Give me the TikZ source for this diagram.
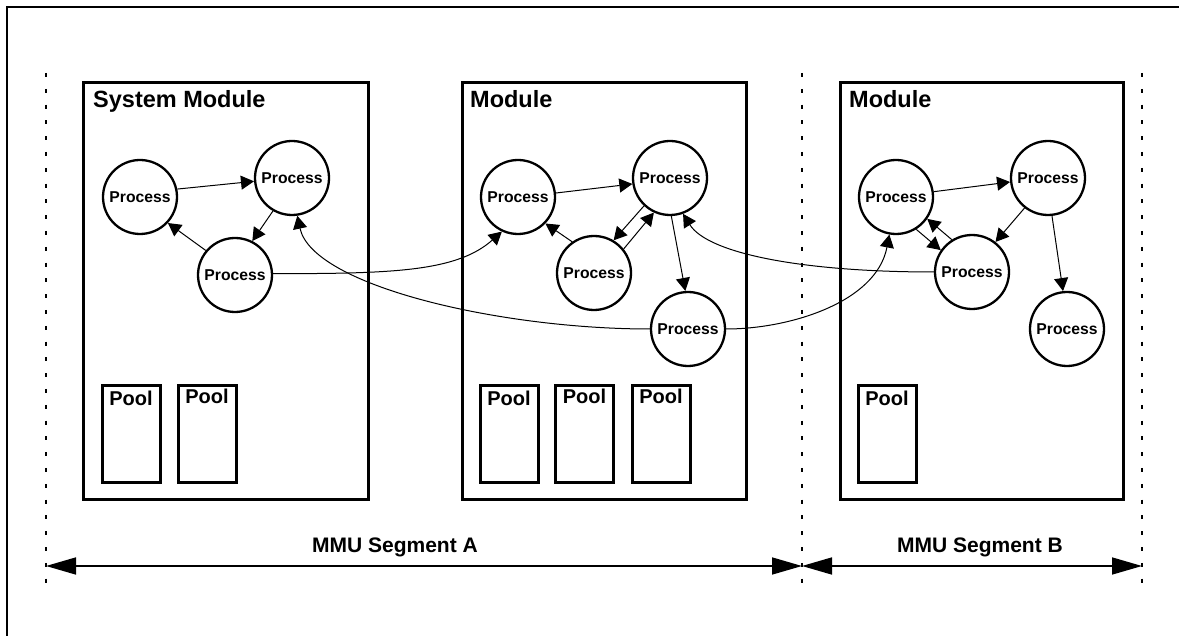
\documentclass[tikz,border=0pt]{standalone}
\usepackage{fontspec}
\newfontfamily\hv{Liberation Sans}
\usetikzlibrary{arrows.meta}
\begin{document}
\begin{tikzpicture}[x=1pt,y=-1pt,
  proc/.style={circle,draw,line width=2.3pt,minimum size=74pt,inner sep=0pt,font=\hv\bfseries\fontsize{15.7}{18}\selectfont},
  modbox/.style={draw,line width=3pt},
  poolbox/.style={draw,line width=3pt,minimum width=58pt,minimum height=96pt,inner sep=0pt},
  pooltxt/.style={anchor=base,inner sep=0pt,font=\hv\bfseries\fontsize{20}{24}\selectfont},
  title/.style={anchor=base west,inner sep=0pt,font=\hv\bfseries\fontsize{23.5}{28}\selectfont},
  seglabel/.style={anchor=base,inner sep=0pt,font=\hv\bfseries\fontsize{21}{25}\selectfont},
  conn/.style={line width=1pt,-{Triangle[length=13pt,width=14pt]}},
  segline/.style={line width=1.6pt,{Triangle[length=30pt,width=17pt]}-{Triangle[length=30pt,width=17pt]}},
  divider/.style={line width=1.8pt,dash pattern=on 4pt off 11.8pt},
  frameline/.style={line width=2pt},
]
\useasboundingbox (0,0) rectangle (1179,636);

% outer frame (only left and top edges visible)
\coordinate (fBL) at (7,636);
\coordinate (fTL) at (7,7);
\coordinate (fTR) at (1179,7);
\draw[frameline] (fBL) -- (fTL) -- (fTR);

% dividers
\coordinate (d1t) at (46,73);   \coordinate (d1b) at (46,585);
\coordinate (d2t) at (802,73);  \coordinate (d2b) at (802,585);
\coordinate (d3t) at (1142,73); \coordinate (d3b) at (1142,585);
\draw[divider] (d1t) -- (d1b);
\draw[divider] (d2t) -- (d2b);
\draw[divider] (d3t) -- (d3b);

% module boxes
\draw[modbox] (83,83) rectangle (368,499);
\draw[modbox] (462,83) rectangle (746,499);
\draw[modbox] (840,83) rectangle (1123,499);
\node[title] (t1) at (93,108) {System Module};
\node[title] (t2) at (470,108) {Module};
\node[title] (t3) at (849,108) {Module};

% pools
\node[poolbox] (sPool1) at (131,434) {};
\node[poolbox] (sPool2) at (207,434) {};
\node[poolbox] (mPool1) at (509,434) {};
\node[poolbox] (mPool2) at (584.5,434) {};
\node[poolbox] (mPool3) at (661,434) {};
\node[poolbox] (rPool1) at (887,434) {};
\node[pooltxt] (sPt1) at (131,406) {Pool};
\node[pooltxt] (sPt2) at (207,404) {Pool};
\node[pooltxt] (mPt1) at (509,406) {Pool};
\node[pooltxt] (mPt2) at (584.5,404) {Pool};
\node[pooltxt] (mPt3) at (661,404) {Pool};
\node[pooltxt] (rPt1) at (887,406) {Pool};

% processes
\node[proc] (sP1) at (140,197) {Process};
\node[proc] (sP2) at (292,178) {Process};
\node[proc] (sP3) at (235,275) {Process};
\node[proc] (mP1) at (518,197) {Process};
\node[proc] (mP2) at (670,178) {Process};
\node[proc] (mP3) at (594,273) {Process};
\node[proc] (mP4) at (688,329) {Process};
\node[proc] (rP1) at (896,197) {Process};
\node[proc] (rP2) at (1048,178) {Process};
\node[proc] (rP3) at (972,272) {Process};
\node[proc] (rP4) at (1067,329) {Process};

% connectors: system module
\draw[conn] (sP1.12) -- (sP2.185);
\draw[conn] (sP2.240) -- (sP3.63);
\draw[conn] (sP3.140) -- (sP1.317);
% connectors: middle module
\draw[conn] (mP1.6) -- (mP2.189);
\draw[conn] (mP3.125) -- (mP1.316);
\draw[conn] (mP2.227) -- (mP3.59);
\draw[conn] (mP3.39) -- (mP2.245);
\draw[conn] (mP2.272) -- (mP4.94);
% connectors: right module
\draw[conn] (rP1.8) -- (rP2.186);
\draw[conn] (rP1.302) -- (rP3.145);
\draw[conn] (rP3.122) -- (rP1.325);
\draw[conn] (rP2.232) -- (rP3.52);
\draw[conn] (rP2.276) -- (rP4.96);
% connectors between modules
\draw[conn] (sP3.2) .. controls +(120,0) and +(-45,40) .. (mP1.245);
\draw[conn] (mP4.180) .. controls +(-150,0) and +(15,70) .. (sP2.278);
\draw[conn] (rP3.180) .. controls +(-130,0) and +(25,40) .. (mP2.290);
\draw[conn] (mP4.0) .. controls +(63,0) and +(-13,68) .. (rP1.260);

% segments
\coordinate (aL) at (46,566);
\coordinate (aM) at (802,566);
\coordinate (aR) at (1142,566);
\draw[segline] (aL) -- (aM);
\draw[segline] (aM) -- (aR);
\node[seglabel] (segA) at (395,552) {MMU Segment A};
\node[seglabel] (segB) at (980,552) {MMU Segment B};
\end{tikzpicture}
\end{document}
